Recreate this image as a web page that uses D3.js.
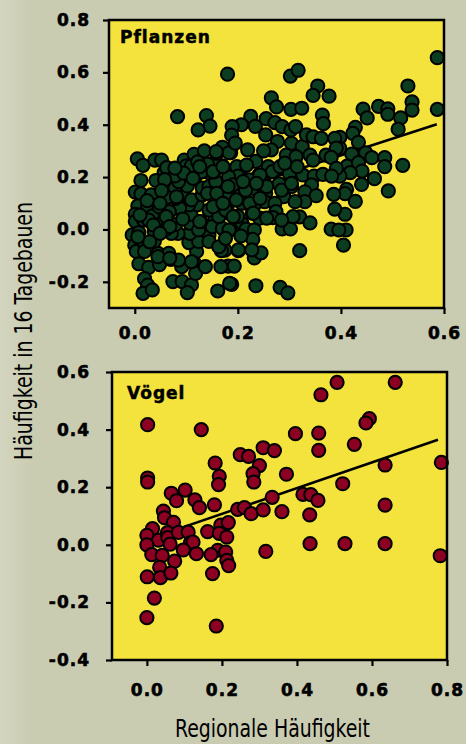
<!DOCTYPE html>
<html>
<head>
<meta charset="utf-8">
<script src="https://cdn.jsdelivr.net/npm/d3@7"></script>
<style>
  body { margin: 0; background: #c9ccb1; }
  svg { display: block; }
</style>
</head>
<body>
<div id="chart"></div>
<script>
// Pflanzen: regional frequency vs. frequency in 16 open-cast mines
var plantPoints = [
  [0.587,0.656],[0.530,0.548],[0.538,0.487],[0.538,0.456],[0.587,0.459],[0.443,0.460],[0.451,0.426],[0.473,0.470],
  [0.491,0.461],[0.491,0.440],[0.516,0.426],[0.511,0.383],[0.428,0.390],[0.423,0.367],[0.434,0.333],[0.421,0.288],
  [0.448,0.293],[0.460,0.274],[0.485,0.274],[0.485,0.240],[0.520,0.245],[0.412,0.242],[0.434,0.255],[0.441,0.223],
  [0.418,0.217],[0.465,0.194],[0.440,0.172],[0.411,0.153],[0.408,0.137],[0.428,0.107],[0.492,0.147],[0.408,0.058],
  [0.410,-0.002],[0.405,-0.060],[0.398,0.352],[0.398,0.310],[0.398,0.204],
  [0.180,0.593],[0.302,0.586],[0.317,0.608],[0.355,0.548],[0.346,0.512],[0.377,0.509],[0.265,0.503],[0.275,0.468],
  [0.303,0.459],[0.324,0.463],[0.364,0.437],[0.366,0.404],[0.225,0.432],[0.255,0.423],[0.207,0.400],[0.234,0.394],
  [0.189,0.393],[0.188,0.360],[0.272,0.408],[0.286,0.393],[0.303,0.380],[0.312,0.393],[0.254,0.361],[0.277,0.336],
  [0.304,0.329],[0.325,0.316],[0.333,0.361],[0.346,0.354],[0.362,0.348],[0.388,0.348],[0.391,0.311],[0.265,0.304],
  [0.219,0.304],[0.186,0.293],[0.294,0.284],[0.313,0.278],[0.340,0.284],[0.346,0.265],[0.371,0.284],[0.381,0.275],
  [0.391,0.233],[0.207,0.233],[0.198,0.240],[0.259,0.240],[0.267,0.221],[0.282,0.240],[0.300,0.214],[0.326,0.208],
  [0.348,0.204],[0.365,0.210],[0.382,0.204],[0.241,0.208],[0.222,0.189],[0.200,0.204],[0.182,0.201],[0.252,0.176],
  [0.280,0.174],[0.304,0.164],[0.343,0.170],[0.330,0.144],[0.352,0.129],[0.386,0.134],[0.203,0.128],[0.175,0.128],
  [0.229,0.157],[0.254,0.138],[0.289,0.125],[0.252,0.106],[0.330,0.106],[0.180,0.094],[0.208,0.100],[0.232,0.094],
  [0.272,0.100],[0.388,0.078],[0.274,0.068],[0.268,0.045],[0.242,0.043],[0.228,0.062],[0.181,0.064],[0.208,0.024],
  [0.320,0.048],[0.340,0.025],[0.286,0.002],[0.302,0.002],[0.381,0.001],[0.396,-0.002],[0.185,-0.002],[0.216,0.001],
  [0.232,-0.002],[0.229,-0.038],[0.175,-0.004],[0.206,-0.025],[0.201,-0.081],[0.232,-0.109],[0.245,-0.089],[0.320,-0.081],
  [0.181,-0.140],[0.193,-0.140],[0.175,-0.079],[0.188,-0.210],[0.235,-0.215],[0.282,-0.221],[0.297,-0.242],
  [0.083,0.431],[0.139,0.435],[0.146,0.395],[0.123,0.380],[0.005,0.270],[0.016,0.245],[0.039,0.265],[0.052,0.265],
  [0.096,0.265],[0.115,0.287],[0.100,0.243],[0.110,0.243],[0.057,0.217],[0.041,0.187],[0.012,0.187],[0.001,0.143],
  [0.012,0.136],[0.006,0.090],[0.001,0.058],[0.001,0.031],[-0.005,-0.021],[0.008,-0.012],[0.000,-0.060],[0.003,-0.084],
  [0.008,-0.131],[0.027,-0.145],[0.048,-0.134],[0.019,-0.188],[0.025,-0.213],[0.016,-0.244],[0.034,-0.231],[0.045,-0.091],
  [0.032,-0.045],[0.038,-0.045],[0.019,-0.055],[0.070,-0.114],[0.091,-0.142],[0.074,-0.199],[0.092,-0.199],[0.110,-0.212],
  [0.102,-0.241],[0.120,-0.084],[0.116,-0.130],[0.118,-0.168],[0.137,-0.142],[0.110,-0.123],[0.161,-0.235],[0.184,-0.206],
  [0.168,-0.081],[0.167,-0.142],[0.063,0.169],[0.032,0.132],[0.025,0.087],[0.017,0.036],[0.034,0.052],[0.047,0.019],
  [0.038,-0.008],[0.019,-0.084],[0.105,-0.050],[0.124,-0.046],[0.144,-0.021],[0.107,-0.015],[0.084,-0.015],[0.071,-0.015],
  [0.079,0.019],[0.107,0.024],[0.124,-0.002],[0.155,0.036],[0.109,0.058],[0.121,0.094],[0.105,0.094],[0.087,0.081],
  [0.067,0.068],[0.047,0.087],[0.079,0.119],[0.093,0.138],[0.110,0.113],[0.131,0.132],[0.078,0.157],[0.102,0.166],
  [0.116,0.195],[0.131,0.158],[0.144,0.164],[0.157,0.183],[0.144,0.217],[0.154,0.220],[0.170,0.243],[0.155,0.253],
  [0.141,0.250],[0.159,0.291],[0.170,0.314],[0.183,0.293],[0.085,0.183],[0.063,0.123],[0.027,0.036],[0.144,0.074],
  [0.141,0.138],[0.163,0.132],[0.176,0.132],[0.150,0.011],[0.170,0.004],[0.183,-0.002],[0.163,0.049],[0.176,0.074],
  [0.144,-0.046],[0.163,-0.066],[0.176,-0.034],[0.085,-0.117],[0.066,-0.091],
  [0.062,0.236],[0.078,0.205],[0.095,0.215],[0.130,0.220],[0.122,0.258],[0.135,0.300],[0.058,0.190],[0.024,0.110],
  [0.052,0.148],[0.093,0.040],[0.128,0.030],[0.060,0.000],[0.190,0.170],[0.200,0.050],[0.215,0.150],[0.235,0.260],
  [0.250,0.300],[0.285,0.150],[0.315,0.240],[0.195,0.330],
  [0.158,0.297],[0.078,0.234],[0.113,0.195],[0.126,0.240],[0.152,0.221],[0.171,0.240],[0.217,0.246],[0.243,0.208],
  [0.291,0.253],[0.304,0.176],[0.256,0.164],[0.236,0.176],[0.210,0.183],[0.181,0.164],[0.159,0.138],[0.081,0.125],
  [0.049,0.100],[0.010,0.055],[0.036,0.017],[0.061,0.049],[0.152,0.087],[0.171,0.100],[0.197,0.113],[0.223,0.100],
  [0.243,0.119],[0.311,0.106],[0.307,0.049],[0.285,0.036],[0.256,0.043],[0.230,0.062],[0.191,0.049],[0.126,0.030],
  [0.068,0.011],[0.049,-0.015],[0.029,-0.047],[0.006,-0.028],[0.045,-0.104],[0.068,-0.110],[0.201,-0.078],[0.227,-0.078]
];

// Vögel
var birdPoints = [
  [0.002,0.417],[0.145,0.400],[0.507,0.564],[0.662,0.564],[0.464,0.521],[0.593,0.438],[0.584,0.423],[0.396,0.386],
  [0.458,0.388],[0.458,0.328],[0.553,0.349],[0.310,0.337],[0.340,0.327],[0.249,0.313],[0.271,0.307],[0.300,0.275],
  [0.182,0.284],[0.193,0.238],[0.191,0.209],[0.283,0.247],[0.285,0.218],[0.372,0.245],[0.785,0.286],[0.635,0.277],
  [0.002,0.232],[0.002,0.218],[0.522,0.212],[0.416,0.175],[0.437,0.174],[0.456,0.154],[0.334,0.165],[0.635,0.138],
  [0.065,0.179],[0.079,0.153],[0.102,0.190],[0.128,0.156],[0.140,0.129],[0.180,0.139],[0.242,0.123],[0.260,0.129],
  [0.278,0.108],[0.310,0.121],[0.360,0.115],[0.434,0.104],[0.044,0.117],[0.047,0.094],[0.071,0.078],[0.015,0.056],
  [0.000,0.033],[0.031,0.016],[0.055,0.042],[0.056,0.025],[0.084,0.043],[0.110,0.044],[0.062,0.002],[0.000,0.000],
  [0.116,0.007],[0.123,0.009],[0.097,-0.018],[0.132,-0.031],[0.162,0.046],[0.197,0.068],[0.217,0.077],[0.193,0.040],
  [0.213,0.027],[0.189,-0.019],[0.171,-0.034],[0.210,-0.025],[0.213,-0.054],[0.218,-0.072],[0.175,-0.100],[0.317,-0.023],
  [0.435,0.004],[0.528,0.004],[0.635,0.004],[0.782,-0.038],[0.013,-0.034],[0.041,-0.037],[0.074,-0.057],[0.034,-0.078],
  [0.036,-0.114],[0.064,-0.098],[0.001,-0.111],[0.020,-0.185],[0.000,-0.253],[0.185,-0.282]
];

// regression lines: [intercept, slope, xFrom, xTo]
var plantFit = [0.027, 0.64, 0.0, 0.586];
var birdFit = [0.018, 0.447, 0.0, 0.776];

var plantXTicks = [0, 0.2, 0.4, 0.6];
var plantYTicks = [-0.2, 0, 0.2, 0.4, 0.6, 0.8];
var birdXTicks = [0, 0.2, 0.4, 0.6, 0.8];
var birdYTicks = [-0.4, -0.2, 0, 0.2, 0.4, 0.6];

var width = 466, height = 744;
var tickFont = "'DejaVu Sans', sans-serif";
var titleFont = "'Liberation Sans Narrow', 'DejaVu Sans Condensed', sans-serif";

var svg = d3.select("#chart").append("svg")
    .attr("width", width)
    .attr("height", height);

// soft lighter strip at the left edge of the background
var grad = svg.append("defs").append("linearGradient")
    .attr("id", "bg")
    .attr("x1", 0).attr("x2", 1).attr("y1", 0).attr("y2", 0);
grad.append("stop").attr("offset", "0%").attr("stop-color", "#d4d5bf");
grad.append("stop").attr("offset", "7%").attr("stop-color", "#c9ccb1");
grad.append("stop").attr("offset", "100%").attr("stop-color", "#c9ccb1");
svg.append("rect").attr("width", width).attr("height", height).attr("fill", "url(#bg)");

function fmt(d) { return d.toFixed(1); }

function panel(opts) {
    var x = d3.scaleLinear().domain(opts.xDomain).range(opts.xRange);
    var y = d3.scaleLinear().domain(opts.yDomain).range(opts.yRange);

    var g = svg.append("g");

    g.append("rect")
        .attr("x", opts.xRange[0])
        .attr("y", opts.yRange[1])
        .attr("width", opts.xRange[1] - opts.xRange[0])
        .attr("height", opts.yRange[0] - opts.yRange[1])
        .attr("fill", "#f3e33c");

    g.append("text")
        .attr("x", opts.xRange[0] + opts.labelDx)
        .attr("y", opts.yRange[1] + opts.labelDy)
        .attr("font-family", tickFont)
        .attr("font-weight", "bold")
        .attr("font-size", 17)
        .attr("letter-spacing", 1)
        .attr("stroke", "#000")
        .attr("stroke-width", 0.5)
        .text(opts.label);

    // fit line sits under the points
    var fit = opts.fit;
    g.append("line")
        .attr("x1", x(fit[2])).attr("y1", y(fit[0] + fit[1] * fit[2]))
        .attr("x2", x(fit[3])).attr("y2", y(fit[0] + fit[1] * fit[3]))
        .attr("stroke", "#000")
        .attr("stroke-width", 2.5);

    g.selectAll("circle")
        .data(opts.points)
        .enter().append("circle")
        .attr("cx", function(d) { return x(d[0]); })
        .attr("cy", function(d) { return y(d[1]); })
        .attr("r", 6.6)
        .attr("fill", opts.color)
        .attr("stroke", "#000")
        .attr("stroke-width", 2);

    // frame
    g.append("rect")
        .attr("x", opts.xRange[0])
        .attr("y", opts.yRange[1])
        .attr("width", opts.xRange[1] - opts.xRange[0])
        .attr("height", opts.yRange[0] - opts.yRange[1])
        .attr("fill", "none")
        .attr("stroke", "#000")
        .attr("stroke-width", 2.5);

    var xAxis = g.append("g")
        .attr("transform", "translate(0," + opts.yRange[0] + ")")
        .call(d3.axisBottom(x).tickValues(opts.xTicks).tickFormat(fmt)
            .tickSize(6).tickPadding(opts.xPad));
    var yAxis = g.append("g")
        .attr("transform", "translate(" + opts.xRange[0] + ",0)")
        .call(d3.axisLeft(y).tickValues(opts.yTicks).tickFormat(fmt)
            .tickSize(6).tickPadding(opts.yPad));

    [xAxis, yAxis].forEach(function(a) {
        a.select(".domain").remove();
        a.selectAll("line").attr("stroke", "#000").attr("stroke-width", 2.2);
        a.selectAll("text")
            .attr("fill", "#000")
            .attr("stroke", "#000")
            .attr("stroke-width", 0.6)
            .attr("font-family", tickFont)
            .attr("font-weight", "bold")
            .attr("font-size", 17)
            .attr("letter-spacing", 1);
    });
}

panel({
    points: plantPoints, fit: plantFit, color: "#0d3d20", label: "Pflanzen",
    xDomain: [-0.05, 0.6], xRange: [109, 444],
    yDomain: [-0.3, 0.8], yRange: [308, 20],
    xTicks: plantXTicks, yTicks: plantYTicks,
    xPad: 13, yPad: 13, labelDx: 11, labelDy: 23
});

panel({
    points: birdPoints, fit: birdFit, color: "#8c0022", label: "Vögel",
    xDomain: [-0.093, 0.8], xRange: [112, 447],
    yDomain: [-0.4, 0.6], yRange: [660, 372],
    xTicks: birdXTicks, yTicks: birdYTicks,
    xPad: 18, yPad: 16, labelDx: 15, labelDy: 27
});

// axis titles
svg.append("text")
    .attr("x", 175)
    .attr("y", 737)
    .attr("font-family", titleFont)
    .attr("font-size", 24)
    .attr("textLength", 195)
    .attr("lengthAdjust", "spacingAndGlyphs")
    .text("Regionale Häufigkeit");

svg.append("text")
    .attr("transform", "translate(32,460) rotate(-90)")
    .attr("font-family", titleFont)
    .attr("font-size", 24)
    .attr("textLength", 258)
    .attr("lengthAdjust", "spacingAndGlyphs")
    .text("Häufigkeit in 16 Tagebauen");
</script>
</body>
</html>
